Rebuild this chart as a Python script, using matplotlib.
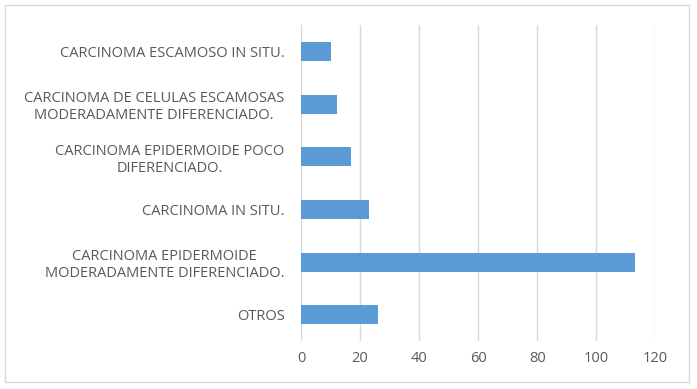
import matplotlib.pyplot as plt
from matplotlib.patches import Rectangle

# categories listed bottom to top
categories = [
    "OTROS",
    "CARCINOMA EPIDERMOIDE\nMODERADAMENTE DIFERENCIADO.",
    "CARCINOMA IN SITU.",
    "CARCINOMA EPIDERMOIDE POCO\nDIFERENCIADO.",
    "CARCINOMA DE CELULAS ESCAMOSAS\nMODERADAMENTE DIFERENCIADO.",
    "CARCINOMA ESCAMOSO IN SITU.",
]
values = [26, 113, 23, 17, 12, 10]
xticks = [0, 20, 40, 60, 80, 100, 120]

plt.rcParams['font.family'] = ['Open Sans', 'DejaVu Sans']

fig = plt.figure(figsize=(6.97, 3.89), dpi=100)
ax = fig.add_axes([0.432, 0.123, 0.508, 0.812])

ax.barh(range(len(categories)), values, height=0.36, color="#5B9BD5", zorder=3)

ax.set_xlim(0, 120)
ax.set_ylim(-0.5, len(categories) - 0.5)
ax.set_xticks(xticks)
ax.set_yticks(range(len(categories)))
ax.set_yticklabels(categories, ha="right", multialignment="center", linespacing=1.15)
ax.tick_params(axis="y", length=0, pad=12, labelsize=10.5)
ax.tick_params(axis="x", length=0, pad=7, labelsize=10.5)
ax.tick_params(labelcolor="#595959")

ax.grid(axis="x", color="#d9d9d9", linewidth=1, zorder=0)
for s in ax.spines.values():
    s.set_visible(False)

# outer chart border
fig.patches.append(Rectangle((5 / 697, 7 / 389), 684 / 697, 377 / 389,
                             transform=fig.transFigure, fill=False,
                             edgecolor="#d9d9d9", linewidth=1))

plt.savefig("out.png", dpi=100)
